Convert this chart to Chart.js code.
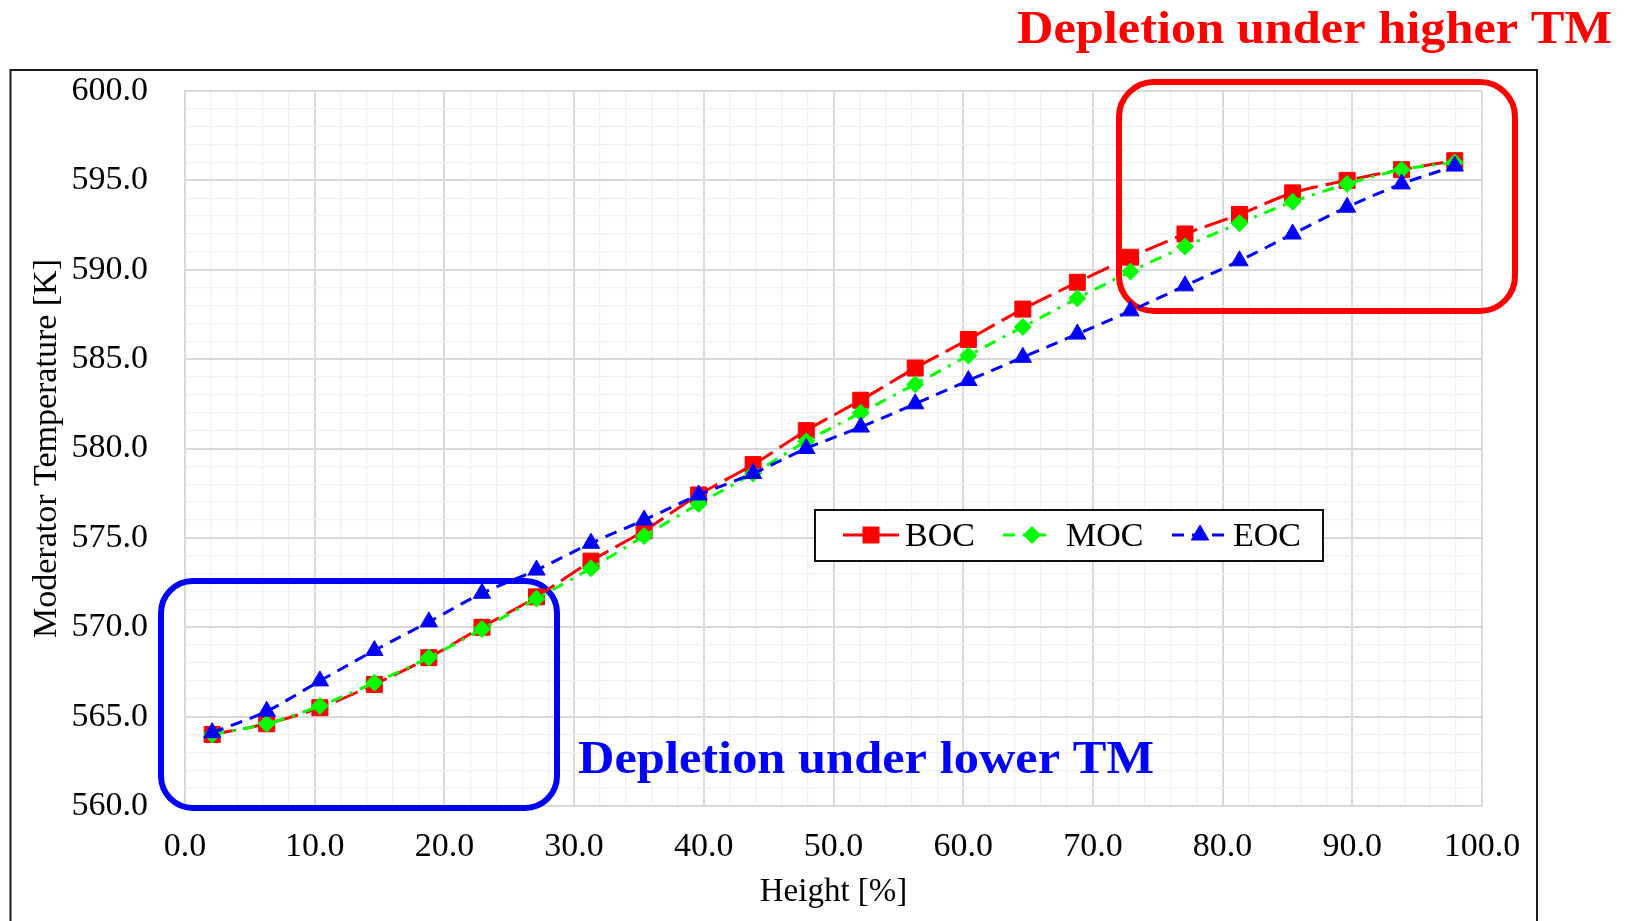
<!DOCTYPE html>
<html>
<head>
<meta charset="utf-8">
<title>Moderator Temperature vs Height</title>
<script src="https://cdn.jsdelivr.net/npm/chart.js@4.4.1/dist/chart.umd.min.js"></script>
<style>
  html, body { margin: 0; padding: 0; background: #fff; }
  #wrap { width: 1631px; height: 921px; position: relative; }
</style>
</head>
<body>
<div id="wrap"><canvas id="tempChart" width="1631" height="921"></canvas></div>
<script>
// Axial node heights [%]
const heights = [2.1, 6.3, 10.4, 14.6, 18.8, 22.9, 27.1, 31.3, 35.4, 39.6, 43.8, 47.9,
                 52.1, 56.3, 60.4, 64.6, 68.8, 72.9, 77.1, 81.3, 85.4, 89.6, 93.8, 97.9];

// Moderator temperature [K] per burnup state
const bocTemps = [564.0, 564.6, 565.5, 566.8, 568.3, 570.0, 571.7, 573.7, 575.4, 577.4, 579.1, 581.0,
                  582.7, 584.5, 586.1, 587.8, 589.3, 590.7, 592.0, 593.1, 594.3, 595.0, 595.6, 596.1];
const mocTemps = [564.0, 564.6, 565.6, 566.9, 568.3, 569.9, 571.6, 573.3, 575.1, 576.9, 578.6, 580.4,
                  582.0, 583.6, 585.2, 586.8, 588.4, 589.9, 591.3, 592.6, 593.8, 594.8, 595.6, 596.0];
const eocTemps = [564.1, 565.3, 567.0, 568.7, 570.3, 571.9, 573.2, 574.7, 576.0, 577.4, 578.6, 580.0,
                  581.2, 582.5, 583.8, 585.1, 586.4, 587.7, 589.1, 590.5, 592.0, 593.5, 594.8, 595.8];

const seriesNames = ['BOC', 'MOC', 'EOC'];
const xRange = [0, 100];
const yRange = [560, 600];
const xTitle = 'Height [%]';
const yTitle = 'Moderator Temperature [K]';
const noteHigh = 'Depletion under higher TM';
const noteLow = 'Depletion under lower TM';

const SERIF = '"Liberation Serif", "Times New Roman", serif';
const MAJOR_GRID = '#d9d9d9';
const MINOR_GRID = '#f0f0f0';

function toPoints(ys) {
  return heights.map((h, i) => ({ x: h, y: ys[i] }));
}

function roundRect(ctx, x, y, w, h, r) {
  ctx.beginPath();
  ctx.moveTo(x + r, y);
  ctx.arcTo(x + w, y, x + w, y + h, r);
  ctx.arcTo(x + w, y + h, x, y + h, r);
  ctx.arcTo(x, y + h, x, y, r);
  ctx.arcTo(x, y, x + w, y, r);
  ctx.closePath();
}

// bold note text, stretched to a given width
function drawNote(ctx, text, color, left, baseline, width) {
  ctx.save();
  ctx.font = 'bold 47px ' + SERIF;
  ctx.fillStyle = color;
  ctx.textAlign = 'left';
  ctx.textBaseline = 'alphabetic';
  const w = ctx.measureText(text).width;
  ctx.translate(left, baseline);
  ctx.scale(width / w, 1);
  ctx.fillText(text, 0, 0);
  ctx.restore();
}

// Highlight boxes, legend, frame and notes
const decorPlugin = {
  id: 'decor',
  beforeDatasetsDraw(chart) {
    const ctx = chart.ctx;
    ctx.save();
    ctx.lineWidth = 6;
    ctx.strokeStyle = '#0000FF';
    roundRect(ctx, 161, 581, 396, 227, 32);
    ctx.stroke();
    ctx.strokeStyle = '#FF0000';
    roundRect(ctx, 1119, 82, 396, 229, 35);
    ctx.stroke();
    ctx.restore();
  },
  afterDatasetsDraw(chart) {
    const ctx = chart.ctx;
    ctx.save();
    ctx.fillStyle = '#fff';
    ctx.fillRect(815, 510, 508, 51);
    ctx.lineWidth = 2;
    ctx.strokeStyle = '#111';
    ctx.strokeRect(815, 510, 508, 51);

    const items = [
      { x0: 843, x1: 900, mx: 871, tx: 905 },
      { x0: 1003, x1: 1050, mx: 1032, tx: 1066 },
      { x0: 1172, x1: 1228, mx: 1200, tx: 1233 }
    ];
    const ly = 535;
    items.forEach((it, i) => {
      const ds = chart.data.datasets[i];
      ctx.save();
      ctx.strokeStyle = ds.borderColor;
      ctx.lineWidth = ds.borderWidth;
      ctx.setLineDash(ds.borderDash || []);
      ctx.beginPath();
      ctx.moveTo(it.x0, ly);
      ctx.lineTo(it.x1, ly);
      ctx.stroke();
      ctx.setLineDash([]);
      ctx.fillStyle = ds.pointBackgroundColor;
      ctx.strokeStyle = ds.pointBorderColor;
      ctx.lineWidth = 1;
      Chart.helpers.drawPoint(ctx, {
        pointStyle: ds.pointStyle,
        radius: ds.pointRadius,
        rotation: 0,
        borderWidth: 1
      }, it.mx, ly);
      ctx.restore();
      ctx.fillStyle = '#000';
      ctx.font = '34px ' + SERIF;
      ctx.textAlign = 'left';
      ctx.textBaseline = 'alphabetic';
      ctx.fillText(ds.label, it.tx, 546);
    });
    ctx.restore();
  },
  afterDraw(chart) {
    const ctx = chart.ctx;
    ctx.save();
    ctx.lineWidth = 2;
    ctx.strokeStyle = '#1a1a1a';
    ctx.strokeRect(10.5, 70, 1526.5, 900);
    ctx.restore();
    drawNote(ctx, noteHigh, '#FF0000', 1017, 43, 595);
    drawNote(ctx, noteLow, '#0000FF', 578, 773, 576);
  }
};

function gridColor(step) {
  return (c) => (c.tick && Math.round(c.tick.value) % step === 0) ? MAJOR_GRID : MINOR_GRID;
}
function gridWidth(step) {
  return (c) => (c.tick && Math.round(c.tick.value) % step === 0) ? 2 : 1.3;
}

const ctx = document.getElementById('tempChart').getContext('2d');
new Chart(ctx, {
  type: 'line',
  data: {
    datasets: [
      {
        label: seriesNames[0],
        data: toPoints(bocTemps),
        borderColor: '#FF0000',
        backgroundColor: '#FF0000',
        pointBackgroundColor: '#FF0000',
        pointBorderColor: '#FF0000',
        borderWidth: 3,
        borderDash: [24, 8],
        pointStyle: 'rect',
        pointRadius: 11.3,
        pointBorderWidth: 1,
        tension: 0.3,
        order: 3
      },
      {
        label: seriesNames[1],
        data: toPoints(mocTemps),
        borderColor: '#00FF00',
        backgroundColor: '#00FF00',
        pointBackgroundColor: '#00FF00',
        pointBorderColor: '#00FF00',
        borderWidth: 3,
        borderDash: [12, 8, 3, 8],
        pointStyle: 'rectRot',
        pointRadius: 8.5,
        pointBorderWidth: 1,
        tension: 0.3,
        order: 2
      },
      {
        label: seriesNames[2],
        data: toPoints(eocTemps),
        borderColor: '#0000FF',
        backgroundColor: '#0000FF',
        pointBackgroundColor: '#0000FF',
        pointBorderColor: '#0000FF',
        borderWidth: 3,
        borderDash: [12, 8],
        pointStyle: 'triangle',
        pointRadius: 10,
        pointBorderWidth: 1,
        tension: 0.3,
        order: 1
      }
    ]
  },
  options: {
    responsive: false,
    animation: false,
    layout: { padding: { top: 91, right: 149, bottom: 0, left: 0 } },
    plugins: {
      legend: { display: false },
      tooltip: { enabled: false }
    },
    scales: {
      x: {
        type: 'linear',
        min: xRange[0],
        max: xRange[1],
        afterFit: (s) => { s.height = 115; },
        border: { color: MAJOR_GRID, width: 2 },
        grid: { color: gridColor(10), lineWidth: gridWidth(10), drawTicks: false },
        ticks: {
          stepSize: 2,
          autoSkip: false,
          maxRotation: 0,
          minRotation: 0,
          padding: 21,
          color: '#000',
          font: { family: SERIF, size: 34 },
          callback: (v) => Math.round(v) % 10 === 0 ? Number(v).toFixed(1) : ''
        },
        title: {
          display: true,
          text: xTitle,
          color: '#000',
          font: { family: SERIF, size: 33 },
          padding: { top: 0, bottom: 9 }
        }
      },
      y: {
        type: 'linear',
        min: yRange[0],
        max: yRange[1],
        afterFit: (s) => { s.width = 185; },
        border: { color: MAJOR_GRID, width: 2 },
        grid: { color: gridColor(5), lineWidth: gridWidth(5), drawTicks: false },
        ticks: {
          stepSize: 1,
          autoSkip: false,
          padding: 37,
          color: '#000',
          font: { family: SERIF, size: 34 },
          callback: (v) => Math.round(v) % 5 === 0 ? Number(v).toFixed(1) : ''
        },
        title: {
          display: true,
          text: yTitle,
          color: '#000',
          font: { family: SERIF, size: 34 },
          padding: { top: 27, bottom: 0 }
        }
      }
    }
  },
  plugins: [decorPlugin]
});
</script>
</body>
</html>
